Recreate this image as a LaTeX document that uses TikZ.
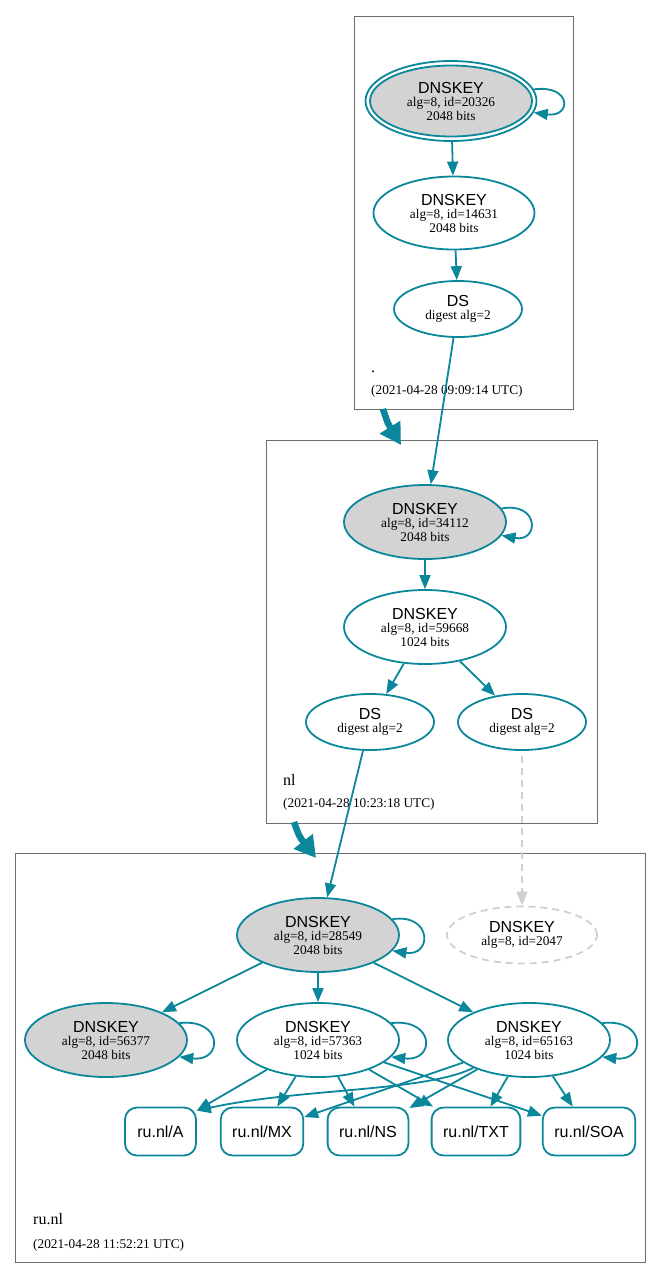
\documentclass[tikz,border=0pt]{standalone}
\usepackage{fontspec}
\setmainfont{Liberation Serif}
\setsansfont{Liberation Sans}
\usetikzlibrary{shapes.geometric,arrows.meta}
\definecolor{dnsteal}{HTML}{0A879A}
\definecolor{keyfill}{HTML}{D3D3D3}
\definecolor{zoneline}{HTML}{6E6E6E}
\definecolor{missing}{HTML}{CFCFCF}
\newcommand{\keytext}[2]{{\sffamily\fontsize{16}{16}\selectfont DNSKEY}\\alg=8, id=#1\\#2 bits}
\newcommand{\dstext}{{\sffamily\fontsize{16}{16}\selectfont DS}\\digest alg=2}
\begin{document}
\begin{tikzpicture}[
        x=1pt, y=-1pt,
        font=\fontsize{13.3}{13.5}\selectfont
    ]
    \tikzset{
        keynode/.style = {ellipse, draw=dnsteal, line width=1.8pt, minimum width=162pt, minimum height=74pt, inner sep=0pt, align=center},
        sepnode/.style = {keynode, fill=keyfill},
        ringnode/.style = {keynode, minimum width=171pt, minimum height=80pt},
        dsnode/.style = {keynode, minimum width=128pt, minimum height=56pt},
        missnode/.style = {keynode, draw=missing, dash pattern=on 7pt off 5pt, minimum width=150pt, minimum height=57pt},
        rrnode/.style = {rectangle, rounded corners=12pt, draw=dnsteal, line width=1.8pt, minimum width=71pt, minimum height=48pt, inner xsep=11.5pt, font=\sffamily\fontsize{16}{16}\selectfont},
        zonebox/.style = {draw=zoneline, line width=0.9pt},
        zonename/.style = {anchor=base west, inner sep=0pt, font=\fontsize{16}{16}\selectfont},
        zonedate/.style = {anchor=base west, inner sep=0pt, font=\fontsize{13.3}{13.3}\selectfont},
        edge/.style = {draw=dnsteal, line width=1.8pt, -{Triangle[length=14pt,width=11pt]}},
        deleg/.style = {draw=dnsteal, line width=6.5pt, -{Triangle[length=21pt,width=23pt]}},
    }
    \useasboundingbox (0,0) rectangle (661,1278);
    % zones
    \draw[zonebox] (354,16) rectangle (573,409);
    \draw[zonebox] (266.5,440.5) rectangle (597,823);
    \draw[zonebox] (15.5,853.5) rectangle (645,1262);
    \node[zonename] (zroot) at (371,372) {.};
    \node[zonedate] (droot) at (371,394) {(2021-04-28 09:09:14 UTC)};
    \node[zonename] (znl) at (283,785) {nl};
    \node[zonedate] (dnl) at (283,807) {(2021-04-28 10:23:18 UTC)};
    \node[zonename] (zrunl) at (33,1224) {ru.nl};
    \node[zonedate] (drunl) at (33,1248) {(2021-04-28 11:52:21 UTC)};
    % root
    \node[ringnode] (ring20326) at (451,101) {};
    \node[sepnode, minimum height=71pt] (k20326) at (451,101) {\keytext{20326}{2048}};
    \node[keynode, minimum width=161pt, minimum height=73pt] (k14631) at (454,213) {\keytext{14631}{2048}};
    \node[dsnode] (dsroot) at (458,309) {\dstext};
    % nl
    \node[sepnode] (k34112) at (425,522) {\keytext{34112}{2048}};
    \node[keynode] (k59668) at (425,627) {\keytext{59668}{1024}};
    \node[dsnode] (dsnl1) at (370,722) {\dstext};
    \node[dsnode] (dsnl2) at (522,722) {\dstext};
    % ru.nl
    \node[sepnode] (k28549) at (318,935) {\keytext{28549}{2048}};
    \node[missnode] (k2047) at (522,935) {{\sffamily\fontsize{16}{16}\selectfont DNSKEY}\\alg=8, id=2047};
    \node[sepnode] (k56377) at (106,1040) {\keytext{56377}{2048}};
    \node[keynode] (k57363) at (318,1040) {\keytext{57363}{1024}};
    \node[keynode] (k65163) at (529,1040) {\keytext{65163}{1024}};
    \node[rrnode] (rrA) at (160.5,1131.5) {ru.nl/A};
    \node[rrnode] (rrMX) at (262,1131.5) {ru.nl/MX};
    \node[rrnode] (rrNS) at (368,1131.5) {ru.nl/NS};
    \node[rrnode] (rrTXT) at (476,1131.5) {ru.nl/TXT};
    \node[rrnode] (rrSOA) at (589,1131.5) {ru.nl/SOA};
    % delegations
    \coordinate (dgrootS) at (383,409);
    \coordinate (dgrootE) at (401,445);
    \coordinate (dgnlS) at (294,822);
    \coordinate (dgnlE) at (316,858);
    \draw[deleg] (dgrootS) .. controls (388,424) .. (dgrootE);
    \draw[deleg] (dgnlS) .. controls (299,836) .. (dgnlE);
    % self signatures
    \draw[edge] (ring20326.8) .. controls +(38,-5) and +(38,5) .. (ring20326.-8);
    \draw[edge] (k34112.10) .. controls +(38,-7) and +(38,7) .. (k34112.-10);
    \draw[edge] (k28549.12) .. controls +(40,-6) and +(40,6) .. (k28549.-12);
    \draw[edge] (k56377.13) .. controls +(44,-5) and +(44,5) .. (k56377.-13);
    \draw[edge] (k57363.13) .. controls +(44,-5) and +(44,5) .. (k57363.-13);
    \draw[edge] (k65163.13) .. controls +(44,-5) and +(44,5) .. (k65163.-13);
    % chain
    \draw[edge] (ring20326) -- (k14631);
    \draw[edge] (k14631) -- (dsroot);
    \draw[edge] (dsroot) -- (k34112);
    \draw[edge] (k34112) -- (k59668);
    \draw[edge] (k59668) -- (dsnl1);
    \draw[edge] (k59668) -- (dsnl2);
    \draw[edge] (dsnl1) -- (k28549);
    \draw[edge, draw=missing, dash pattern=on 7pt off 5pt, dash phase=7pt] (dsnl2) -- (k2047);
    \draw[edge] (k28549) -- (k56377);
    \draw[edge] (k28549) -- (k57363);
    \draw[edge] (k28549) -- (k65163);
    % records
    \draw[edge] (k57363) -- (rrA);
    \draw[edge] (k57363) -- (rrMX);
    \draw[edge] (k57363) -- (rrNS);
    \draw[edge] (k57363) -- (rrTXT);
    \draw[edge] (k57363) -- (rrSOA);
    \draw[edge] (k65163) .. controls (425,1092) and (300,1088) .. ([yshift=-4pt]rrA.north east);
    \draw[edge] (k65163) -- (rrMX);
    \draw[edge] (k65163) -- (rrNS);
    \draw[edge] (k65163) -- (rrTXT);
    \draw[edge] (k65163) -- (rrSOA);
\end{tikzpicture}
\end{document}
